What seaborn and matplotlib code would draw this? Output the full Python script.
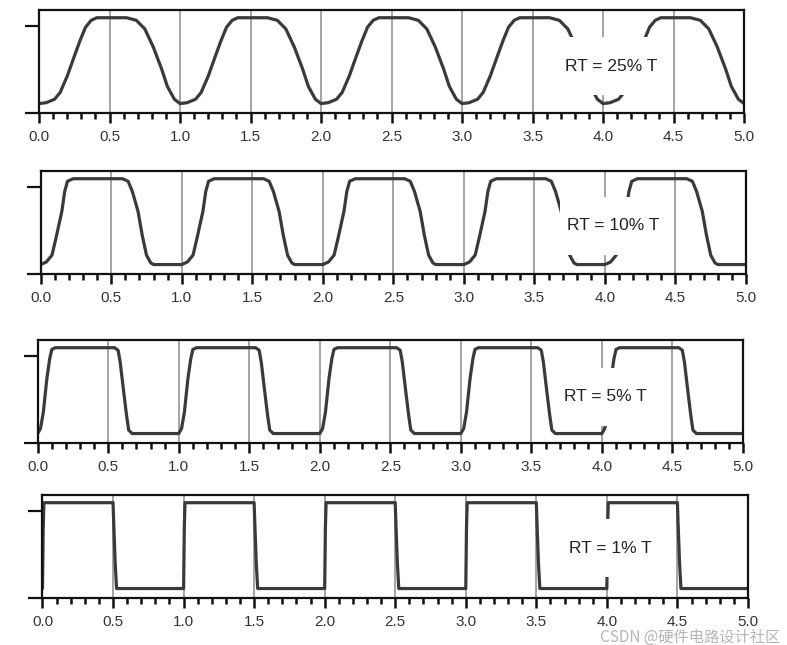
import numpy as np
import pandas as pd
import seaborn as sns
import matplotlib.pyplot as plt
from matplotlib.patches import Rectangle
from matplotlib.ticker import MultipleLocator

# --- Data: one period of each trace, time in units of T, level normalised 0 (low) .. 1 (high) ---
# the traces repeat every period

rt25_t = [0.00, 0.05, 0.11, 0.15, 0.20, 0.25, 0.29, 0.33, 0.37, 0.41, 0.62, 0.69, 0.75, 0.81, 0.87, 0.91, 0.96, 1.00]
rt25_v = [0.00, 0.01, 0.05, 0.13, 0.32, 0.55, 0.73, 0.89, 0.97, 1.00, 1.00, 0.97, 0.87, 0.66, 0.40, 0.20, 0.05, 0.00]

rt10_t = [0.00, 0.04, 0.08, 0.11, 0.15, 0.17, 0.19, 0.23, 0.58, 0.62, 0.65, 0.69, 0.72, 0.75, 0.78, 0.80, 1.00]
rt10_v = [0.00, 0.03, 0.11, 0.32, 0.62, 0.85, 0.97, 1.00, 1.00, 0.97, 0.85, 0.62, 0.34, 0.11, 0.02, 0.00, 0.00]

rt5_t = [0.00, 0.02, 0.04, 0.065, 0.085, 0.10, 0.125, 0.545, 0.57, 0.585, 0.61, 0.63, 0.645, 0.67, 1.00]
rt5_v = [0.00, 0.06, 0.25, 0.64, 0.87, 0.98, 1.00, 1.00, 0.97, 0.83, 0.48, 0.21, 0.04, 0.00, 0.00]

rt1_t = [0.000, 0.005, 0.010, 0.500, 0.505, 0.515, 0.525, 1.000]
rt1_v = [0.00, 0.70, 1.00, 1.00, 0.75, 0.30, 0.00, 0.00]

cycles = [0, 1, 2, 3, 4]
labels = ['RT = 25% T', 'RT = 10% T', 'RT = 5% T', 'RT = 1% T']
profiles = [(rt25_t, rt25_v), (rt10_t, rt10_v), (rt5_t, rt5_v), (rt1_t, rt1_v)]

# --- Layout (figure fractions) ---
panel_rects = [
    [0.0496, 0.8248, 0.8958, 0.1597],
    [0.0517, 0.5752, 0.8962, 0.1597],
    [0.0479, 0.3132, 0.8962, 0.1597],
    [0.0540, 0.0729, 0.8964, 0.1597],
]
label_y = [0.456, 0.466, 0.447, 0.485]
ylo, yhi = -0.11, 1.09

sns.set_style('white')
plt.rcParams['font.family'] = ['Liberation Sans', 'DejaVu Sans']

fig = plt.figure(figsize=(7.87, 6.45), dpi=100)

for (pt, pv), rect, lab, ly in zip(profiles, panel_rects, labels, label_y):
    ax = fig.add_axes(rect)
    df = pd.DataFrame({
        't': np.concatenate([np.array(pt) + c for c in cycles]),
        'v': np.concatenate([np.array(pv) for c in cycles]),
    })
    sns.lineplot(data=df, x='t', y='v', ax=ax, sort=False, estimator=None,
                 color='#3a3a3a', linewidth=2.3, zorder=2)

    ax.set_xlim(0, 5)
    ax.set_ylim(ylo, yhi)
    ax.set_xlabel('')
    ax.set_ylabel('')

    # vertical grid every 0.5 T, small ticks every 0.1 T
    ax.xaxis.set_major_locator(MultipleLocator(0.5))
    ax.xaxis.set_minor_locator(MultipleLocator(0.1))
    ax.xaxis.set_major_formatter(plt.FormatStrFormatter('%.1f'))
    ax.grid(axis='x', which='major', color='#8c8c8c', linewidth=1.1)
    ax.set_axisbelow(True)

    ax.tick_params(axis='x', which='both', bottom=True, direction='out', width=1.8,
                   color='#111111')
    ax.tick_params(axis='x', which='major', length=7, labelsize=11,
                   labelcolor='#333333', pad=5.5)
    ax.tick_params(axis='x', which='minor', length=4.5)
    ax.set_yticks([ylo, 0.9])
    ax.tick_params(axis='y', direction='out', length=10, width=1.6, color='#111111',
                   labelleft=False, left=True)

    for sp in ax.spines.values():
        sp.set_visible(True)
        sp.set_color('#111111')
        sp.set_linewidth(1.6)

    # white label box hides the trace behind the annotation
    trans = ax.get_xaxis_transform()
    ax.add_patch(Rectangle((3.68, ly - 0.28), 0.77, 0.56, transform=trans,
                           facecolor='white', edgecolor='none', zorder=3))
    ax.text(3.73, ly, lab, transform=trans, ha='left', va='center',
            fontsize=12.5, color='#222222', zorder=4)

fig.text(0.991, 0.012, 'CSDN @硬件电路设计社区', ha='right', va='center', fontsize=11,
         color='#b5b5b5', family=['Noto Sans CJK SC', 'DejaVu Sans'])

plt.savefig('out.png', dpi=100)
